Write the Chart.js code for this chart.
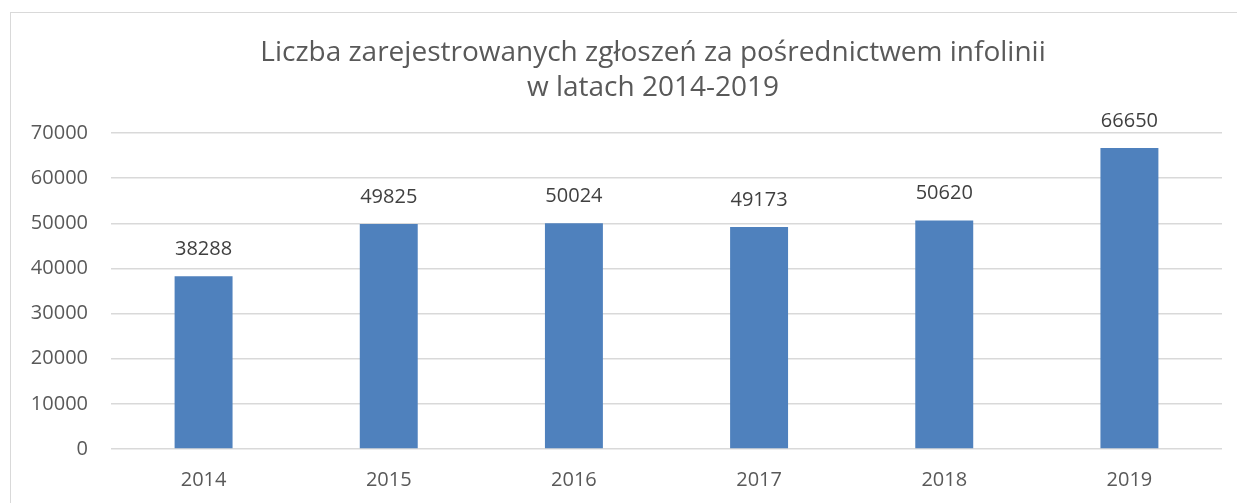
<!DOCTYPE html>
<html>
<head>
<meta charset="utf-8">
<script src="https://cdn.jsdelivr.net/npm/chart.js@4"></script>
<style>
  body { margin: 0; background: #fff; overflow: hidden; }
  #frame { position: absolute; left: 10px; top: 12px; width: 1240px; height: 500px; border: 1px solid #d9d9d9; }
  #wrap { position: absolute; left: 0; top: 0; width: 1237px; height: 503px; }
</style>
</head>
<body>
<div id="frame"></div>
<div id="wrap"><canvas id="myChart"></canvas></div>
<script>
'use strict';

const years = ['2014', '2015', '2016', '2017', '2018', '2019'];
const reports = [38288, 49825, 50024, 49173, 50620, 66650];
const yMin = 0;
const yMax = 70000;
const yStep = 10000;
const titleLines = [
  'Liczba zarejestrowanych zgłoszeń za pośrednictwem infolinii',
  'w latach 2014-2019'
];

const fontFamily = '"Open Sans", "DejaVu Sans", sans-serif';

// title drawn by hand so it can sit off-centre like the original
const titleText = {
  id: 'titleText',
  afterDraw(chart) {
    const ctx = chart.ctx;
    ctx.save();
    ctx.font = '28px ' + fontFamily;
    ctx.fillStyle = '#595959';
    ctx.textAlign = 'center';
    ctx.textBaseline = 'middle';
    titleLines.forEach((line, i) => {
      ctx.fillText(line, 653, 53 + i * 35);
    });
    ctx.restore();
  }
};

// value labels above each bar
const barLabels = {
  id: 'barLabels',
  afterDatasetsDraw(chart) {
    const ctx = chart.ctx;
    const meta = chart.getDatasetMeta(0);
    ctx.save();
    ctx.font = '20px ' + fontFamily;
    ctx.fillStyle = '#404040';
    ctx.textAlign = 'center';
    ctx.textBaseline = 'middle';
    meta.data.forEach((bar, i) => {
      ctx.fillText(String(reports[i]), bar.x, bar.y - 27);
    });
    ctx.restore();
  }
};

const ctx = document.getElementById('myChart').getContext('2d');

const myChart = new Chart(ctx, {
  type: 'bar',
  data: {
    labels: years,
    datasets: [{
      data: reports,
      backgroundColor: '#4f81bd',
      borderWidth: 0,
      barPercentage: 0.313,
      categoryPercentage: 1
    }]
  },
  options: {
    responsive: true,
    maintainAspectRatio: false,
    animation: false,
    layout: { padding: { left: 0, right: 15, top: 133, bottom: 0 } },
    plugins: {
      legend: { display: false },
      tooltip: { enabled: false },
      title: { display: false }
    },
    scales: {
      x: {
        grid: { display: false },
        border: { display: false },
        ticks: {
          color: '#595959',
          font: { family: fontFamily, size: 20 },
          padding: 11
        },
        afterFit(scale) { scale.height = 54; }
      },
      y: {
        min: yMin,
        max: yMax,
        grid: { color: '#d9d9d9', lineWidth: 1.5, drawTicks: false },
        border: { display: false },
        ticks: {
          stepSize: yStep,
          color: '#595959',
          font: { family: fontFamily, size: 20 },
          padding: 23,
          callback: (v) => String(v)
        },
        afterFit(scale) { scale.width = 111; }
      }
    }
  },
  plugins: [barLabels, titleText]
});
</script>
</body>
</html>
